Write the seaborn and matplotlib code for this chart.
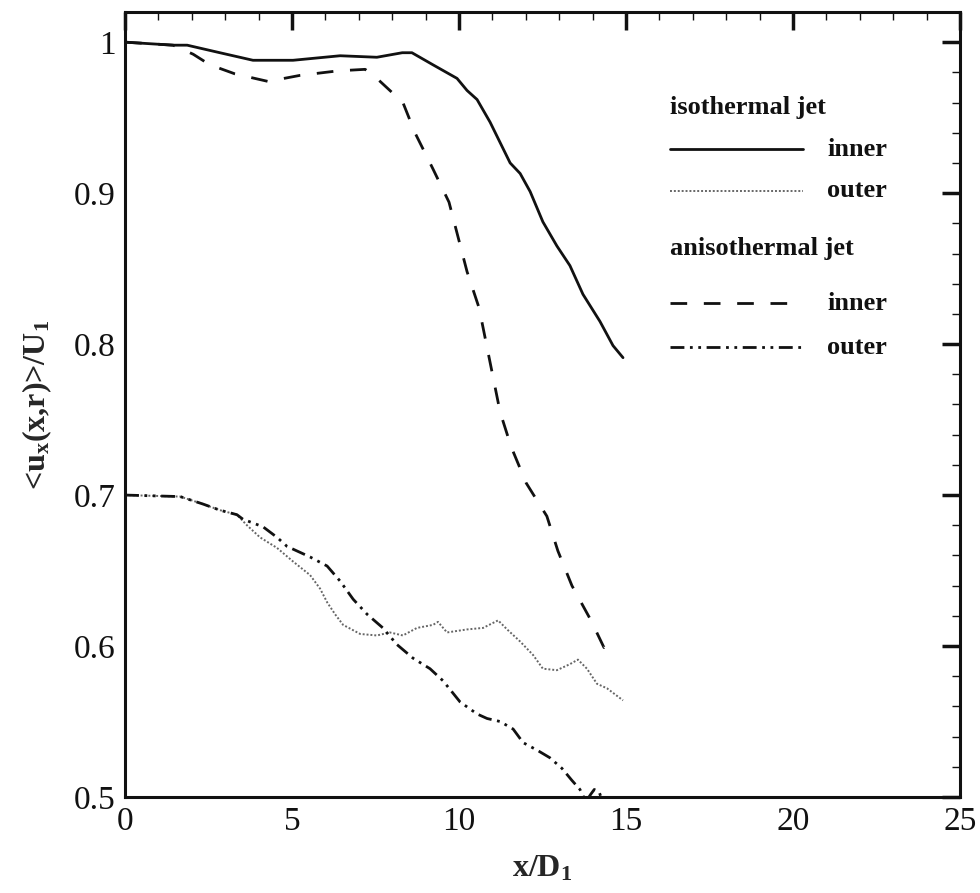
import numpy as np
import pandas as pd
import matplotlib
matplotlib.use("Agg")
import matplotlib.pyplot as plt
from matplotlib.ticker import MultipleLocator, FuncFormatter
import seaborn as sns

# Isothermal jet, inner shear layer
iso_inner_x = [0.0, 1.44, 1.86, 2.84, 3.83, 5.03, 6.44, 7.54, 8.3, 8.59, 9.22, 9.94, 10.24,
               10.54, 10.93, 11.53, 11.83, 12.13, 12.51, 12.93, 13.32, 13.71, 14.22, 14.61, 14.91]
iso_inner_y = [1.0, 0.998, 0.998, 0.993, 0.988, 0.988, 0.991, 0.990, 0.993, 0.993, 0.985, 0.976,
               0.968, 0.962, 0.947, 0.920, 0.913, 0.901, 0.881, 0.865, 0.852, 0.833, 0.815, 0.799, 0.791]

# Isothermal jet, outer shear layer
iso_outer_x = [0.0, 1.65, 2.34, 2.84, 3.35, 3.65, 4.04, 4.55, 5.03, 5.54, 5.84, 6.05, 6.29, 6.53,
               7.04, 7.54, 7.93, 8.32, 8.74, 9.22, 9.37, 9.64, 10.24, 10.72, 11.17, 11.44, 11.83,
               12.22, 12.51, 12.93, 13.32, 13.56, 13.83, 14.13, 14.43, 14.91]
iso_outer_y = [0.700, 0.699, 0.694, 0.690, 0.687, 0.680, 0.672, 0.665, 0.656, 0.647, 0.638, 0.629,
               0.621, 0.614, 0.608, 0.607, 0.609, 0.607, 0.612, 0.614, 0.616, 0.609, 0.611, 0.612,
               0.617, 0.611, 0.603, 0.594, 0.585, 0.584, 0.588, 0.591, 0.585, 0.575, 0.572, 0.564]

# Anisothermal jet, inner shear layer
aniso_inner_x = [0.0, 1.44, 2.04, 2.54, 3.29, 4.28, 5.24, 6.38, 7.19, 7.54, 8.32, 8.68, 9.22,
                 9.70, 9.97, 10.24, 10.60, 10.81, 11.02, 11.23, 11.56, 12.01, 12.63, 12.96,
                 13.38, 13.95, 14.34, 14.64]
aniso_inner_y = [1.0, 0.998, 0.992, 0.985, 0.979, 0.974, 0.978, 0.981, 0.982, 0.976, 0.960, 0.940,
                 0.916, 0.894, 0.871, 0.848, 0.824, 0.801, 0.778, 0.755, 0.732, 0.708, 0.686,
                 0.663, 0.640, 0.617, 0.599, 0.606]

# Anisothermal jet, outer shear layer
aniso_outer_x = [0.0, 1.65, 2.34, 2.84, 3.35, 3.53, 4.13, 4.55, 4.85, 5.54, 6.05, 6.44, 6.83,
                 7.25, 7.72, 8.14, 8.62, 9.13, 9.52, 10.03, 10.54, 10.84, 11.23, 11.62, 11.92,
                 12.34, 12.72, 13.08, 13.38, 13.62, 13.8, 13.95, 14.05, 14.2, 14.3, 14.5]
aniso_outer_y = [0.700, 0.699, 0.694, 0.690, 0.687, 0.684, 0.679, 0.672, 0.666, 0.659, 0.653,
                 0.643, 0.631, 0.621, 0.612, 0.601, 0.592, 0.585, 0.577, 0.563, 0.555, 0.552,
                 0.550, 0.545, 0.536, 0.531, 0.526, 0.519, 0.511, 0.505, 0.497, 0.502, 0.505,
                 0.503, 0.497, 0.490]

x_ticks = [0, 5, 10, 15, 20, 25]
y_ticks = [0.5, 0.6, 0.7, 0.8, 0.9, 1.0]

sns.set_style("white")
plt.rcParams["font.family"] = ["Liberation Serif", "DejaVu Serif"]
plt.rcParams["mathtext.fontset"] = "custom"
plt.rcParams["mathtext.rm"] = "Liberation Serif:bold"
plt.rcParams["mathtext.it"] = "Liberation Serif:bold"
plt.rcParams["mathtext.bf"] = "Liberation Serif:bold"

fig = plt.figure(figsize=(9.8, 8.93), dpi=100)
ax = fig.add_axes([0.1276, 0.1075, 0.8520, 0.8791])

series = [
    (iso_inner_x, iso_inner_y, dict(color="#111111", lw=2.0, linestyle="-")),
    (iso_outer_x, iso_outer_y, dict(color="#666666", lw=1.4, linestyle=(0, (1, 1)))),
    (aniso_inner_x, aniso_inner_y, dict(color="#111111", lw=2.0, linestyle=(0, (6, 6)))),
    (aniso_outer_x, aniso_outer_y, dict(color="#111111", lw=2.0,
                                        linestyle=(0, (5, 2, 1, 2, 1, 2)))),
]
for xs, ys, style in series:
    df = pd.DataFrame({"x": xs, "y": ys})
    sns.lineplot(data=df, x="x", y="y", ax=ax, estimator=None, sort=False, **style)

ax.set_xlim(0, 25)
ax.set_ylim(0.5, 1.02)
ax.set_xticks(x_ticks)
ax.set_yticks(y_ticks)
ax.xaxis.set_minor_locator(MultipleLocator(1))
ax.yaxis.set_minor_locator(MultipleLocator(0.02))
ax.yaxis.set_major_formatter(FuncFormatter(lambda v, p: f"{v:g}"))
ax.tick_params(which="both", direction="in", top=True, right=True, colors="#111111")
ax.tick_params(which="major", length=13, width=2.5, labelsize=24, pad=7)
ax.tick_params(which="minor", length=6, width=1.0)
for sp in ax.spines.values():
    sp.set_linewidth(2.2)
    sp.set_color("#111111")

ax.set_xlabel(r"x/D$_1$", fontsize=23, fontweight="bold", labelpad=12)
ax.set_ylabel(r"<u$_x$(x,r)>/U$_1$", fontsize=23, fontweight="bold", labelpad=14)

# Grouped legend drawn in axes fraction coordinates
leg_x0, leg_x1, lab_x = 0.653, 0.812, 0.841
tkw = dict(transform=ax.transAxes, fontsize=19, fontweight="bold", va="center", color="#111111")
ax.text(leg_x0, 0.878, "isothermal jet", ha="left", **tkw)
ax.text(leg_x0, 0.699, "anisothermal jet", ha="left", **tkw)
rows = [(0.825, "inner", series[0][2]), (0.772, "outer", series[1][2]),
        (0.629, "inner", series[2][2]), (0.573, "outer", series[3][2])]
for yy, lab, style in rows:
    ax.plot([leg_x0, leg_x1], [yy, yy], transform=ax.transAxes, **style)
    ax.text(lab_x, yy, lab, ha="left", **tkw)

fig.savefig("out.png", dpi=100)
